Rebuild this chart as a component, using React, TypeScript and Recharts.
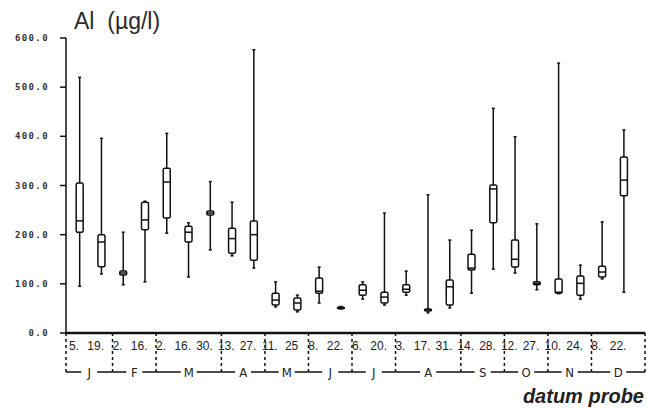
import { ComposedChart, Bar, XAxis, YAxis } from "recharts";

const DAYS = ["5.", "19.", "2.", "16.", "2.", "16.", "30.", "13.", "27.", "11.", "25", "8.", "22.", "6.", "20.", "3.", "17.", "31.", "14.", "28.", "12.", "27.", "10.", "24.", "8.", "22."];
const MONTH_OF = [1, 1, 2, 2, 3, 3, 3, 4, 4, 5, 5, 6, 6, 7, 7, 8, 8, 8, 9, 9, 10, 10, 11, 11, 12, 12];
const MONTH_LETTERS = ["J", "F", "M", "A", "M", "J", "J", "A", "S", "O", "N", "D"];

const MIN = [95, 120, 98, 104, 203, 114, 169, 157, 132, 53, 43, 61, 49, 69, 57, 77, 41, 51, 81, 130, 122, 88, 80, 69, 110, 83];
const Q1 = [205, 135, 118, 210, 234, 185, 240, 162, 148, 57, 47, 81, 49.5, 77, 61, 83, 45, 57, 128, 224, 134, 98, 81, 77, 114, 279];
const MED = [228, 185, 122, 230, 307, 205, 244, 192, 200, 67, 61, 85, 51, 87, 73, 89, 47, 94, 132, 293, 150, 101, 83, 101, 124, 311];
const Q3 = [305, 200, 126, 266, 335, 217, 248, 213, 228, 81, 71, 112, 53, 98, 83, 98, 49, 108, 160, 301, 189, 104, 110, 116, 136, 358];
const MAX = [520, 396, 205, 268, 406, 224, 308, 266, 576, 104, 77, 134, 54, 104, 244, 126, 281, 189, 209, 457, 399, 222, 549, 138, 226, 413];

const Y_TICKS = [0, 100, 200, 300, 400, 500, 600];

const data = DAYS.map((d, i) => ({
  key: `${MONTH_OF[i]}-${i}`,
  day: d,
  month: MONTH_OF[i],
  min: MIN[i],
  q1: Q1[i],
  med: MED[i],
  q3: Q3[i],
  max: MAX[i],
}));

// layout
const W = 647;
const H = 409;
const AXIS_W = 66;
const PAD_L = 3;
const PAD_R = 10;
const PLOT_W = W - AXIS_W - 2;
const BAND = (PLOT_W - PAD_L - PAD_R) / DAYS.length;
const BOX_W = 7;
const MONTH_ROW = 39;

function BoxShape(props: any) {
  const { x, y, width, height, payload } = props;
  const cx = x + width / 2;
  const span = payload.max - payload.min;
  const py = (v: number) => y + (height * (payload.max - v)) / span;
  const top = py(payload.q3);
  const bot = py(payload.q1);
  const med = py(payload.med);
  return (
    <g stroke="#111" fill="none" strokeWidth={1.5}>
      <line x1={cx} x2={cx} y1={y} y2={y + height} />
      <line x1={cx - 1.5} x2={cx + 1.5} y1={y} y2={y} />
      <line x1={cx - 1.5} x2={cx + 1.5} y1={y + height} y2={y + height} />
      <rect x={cx - BOX_W / 2} y={top} width={BOX_W} height={Math.max(bot - top, 1)} fill="#fff" rx={1.5} />
      <line x1={cx - BOX_W / 2} x2={cx + BOX_W / 2} y1={med} y2={med} />
    </g>
  );
}

function monthSpan(i: number) {
  let j = i;
  while (j + 1 < MONTH_OF.length && MONTH_OF[j + 1] === MONTH_OF[i]) j++;
  return j - i + 1;
}

function DateTick(props: any) {
  const { x, y, payload } = props;
  const i = payload.index ?? props.index;
  const first = i === 0 || MONTH_OF[i] !== MONTH_OF[i - 1];
  const last = i === DAYS.length - 1;
  const my = y + MONTH_ROW;
  let monthEl = null;
  if (first) {
    const n = monthSpan(i);
    const left = i === 0 ? x - BAND / 2 - PAD_L : x - BAND / 2;
    const right = x - BAND / 2 + n * BAND + (i + n === DAYS.length ? PAD_R : 0);
    const c = (left + right) / 2;
    monthEl = (
      <g>
        <line x1={left} x2={left} y1={y} y2={my} stroke="#111" strokeWidth={1.5} strokeDasharray="3 3" />
        <line x1={left} x2={right} y1={my} y2={my} stroke="#111" strokeWidth={1.3} />
        <rect x={c - 8} y={my - 7} width={16} height={14} fill="#fff" />
        <text x={c} y={my + 5} textAnchor="middle" fontSize={13} fill="#222" fontFamily="'Liberation Sans Narrow', 'DejaVu Sans Condensed', sans-serif">
          {MONTH_LETTERS[MONTH_OF[i] - 1]}
        </text>
      </g>
    );
  }
  return (
    <g>
      {monthEl}
      {last && (
        <line x1={x + BAND / 2 + PAD_R} x2={x + BAND / 2 + PAD_R} y1={y} y2={my} stroke="#111" strokeWidth={1.5} strokeDasharray="3 3" />
      )}
      <text x={x - 6} y={y + 17} textAnchor="middle" fontSize={12} fill="#222" fontFamily="'Liberation Sans', Arial, sans-serif">
        {DAYS[i]}
      </text>
    </g>
  );
}

function ValueTick(props: any) {
  const { x, y, payload } = props;
  return (
    <text x={x - 9} y={y + 3} textAnchor="end" fontSize={9} fontWeight="bold" letterSpacing={1.4} fill="#333" fontFamily="'DejaVu Sans Mono', monospace">
      {payload.value.toFixed(1)}
    </text>
  );
}

export default function App() {
  return (
    <div style={{ position: "absolute", left: 0, top: 0, width: W, height: H, background: "#fff" }}>
      <div
        style={{
          position: "absolute",
          left: 74,
          top: 8,
          fontSize: 23,
          fontFamily: "'Liberation Sans', Arial, sans-serif",
          color: "#2a2a2a",
          whiteSpace: "pre",
        }}
      >
        {"Al  (µg/l)"}
      </div>
      <ComposedChart width={W} height={H} data={data} margin={{ top: 38, right: 2, bottom: 0, left: 0 }}>
        <XAxis
          dataKey="key"
          interval={0}
          height={76}
          tickLine={false}
          tickSize={0}
          tickMargin={0}
          padding={{ left: PAD_L, right: PAD_R }}
          axisLine={{ stroke: "#111", strokeWidth: 2.5 }}
          tick={<DateTick />}
        />
        <YAxis
          width={AXIS_W}
          domain={[0, 600]}
          ticks={Y_TICKS}
          tickSize={6}
          tickLine={{ stroke: "#111", strokeWidth: 1.5 }}
          axisLine={{ stroke: "#111", strokeWidth: 1.5 }}
          tick={<ValueTick />}
        />
        <Bar dataKey={(d: any) => [d.min, d.max]} shape={<BoxShape />} isAnimationActive={false} />
      </ComposedChart>
      <div
        style={{
          position: "absolute",
          right: 3,
          top: 385,
          fontSize: 20,
          fontWeight: "bold",
          fontStyle: "italic",
          fontFamily: "'Liberation Sans', Arial, sans-serif",
          color: "#222",
        }}
      >
        datum probe
      </div>
    </div>
  );
}
